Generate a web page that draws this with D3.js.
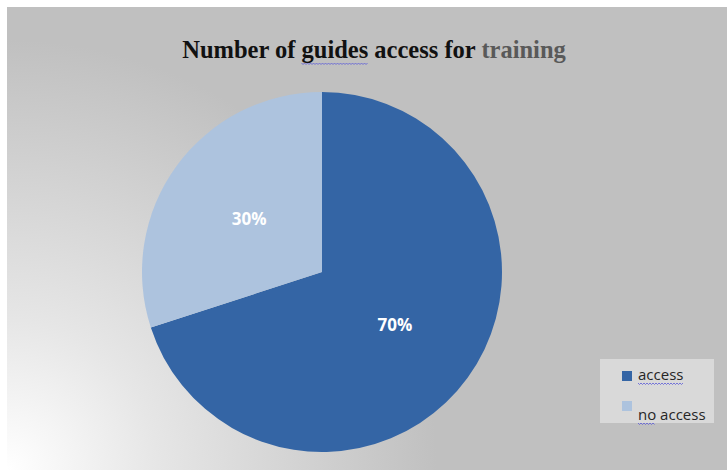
<!DOCTYPE html>
<html>
<head>
<meta charset="utf-8">
<script src="https://cdnjs.cloudflare.com/ajax/libs/d3/7.8.5/d3.min.js"></script>
<style>
  body { margin: 0; background: #fff; }
  svg { display: block; }
</style>
</head>
<body>
<div id="chart"></div>
<script>
// chart values
const categories = ["access", "no access"];
const values = [70, 30];
const labels = ["70%", "30%"];
const colors = ["#3465a5", "#adc3de"];

const width = 727, height = 470;

const svg = d3.select("#chart")
    .append("svg")
    .attr("width", width)
    .attr("height", height);

// background gradient, white in the bottom left corner
const defs = svg.append("defs");
const grad = defs.append("radialGradient")
    .attr("id", "bg")
    .attr("gradientUnits", "userSpaceOnUse")
    .attr("cx", 7).attr("cy", 470).attr("r", 430);
grad.append("stop").attr("offset", "0%").attr("stop-color", "#ffffff");
grad.append("stop").attr("offset", "35%").attr("stop-color", "#e6e6e6");
grad.append("stop").attr("offset", "100%").attr("stop-color", "#c0c0c0");

svg.append("rect")
    .attr("x", 7).attr("y", 7)
    .attr("width", width - 7).attr("height", height - 7)
    .attr("fill", "url(#bg)");

// title
const title = svg.append("text")
    .attr("x", 374)
    .attr("y", 58)
    .attr("text-anchor", "middle")
    .style("font-family", "'Liberation Serif', 'Times New Roman', serif")
    .style("font-weight", "bold")
    .style("font-size", "24.5px")
    .attr("fill", "#111");
title.append("tspan").text("Number of ");
title.append("tspan").attr("id", "guides").text("guides");
title.append("tspan").text(" access for ");
title.append("tspan").attr("fill", "#595959").text("training");

// little wavy underline like a spell checker mark
function squiggle(x0, x1, y) {
    let pts = [];
    for (let x = x0, i = 0; x <= x1; x += 1.5, i++) {
        pts.push([x, y + (i % 2 === 0 ? 0 : 1.5)]);
    }
    svg.append("path")
        .attr("d", d3.line()(pts))
        .attr("fill", "none")
        .attr("stroke", "#5a5ad8")
        .attr("stroke-width", 0.8);
}
const gb = document.getElementById("guides").getBBox();
squiggle(gb.x, gb.x + gb.width, 63);

// pie
const cx = 322, cy = 272, radius = 180;
const pie = d3.pie().sort(null).value(d => d);
const arc = d3.arc().innerRadius(0).outerRadius(radius);
const labelArc = d3.arc().innerRadius(radius * 0.5).outerRadius(radius * 0.5);

const g = svg.append("g").attr("transform", `translate(${cx}, ${cy})`);
const arcs = pie(values);

g.selectAll("path")
    .data(arcs)
    .enter()
    .append("path")
    .attr("d", arc)
    .attr("fill", (d, i) => colors[i]);

g.selectAll("text")
    .data(arcs)
    .enter()
    .append("text")
    .attr("transform", d => `translate(${labelArc.centroid(d)})`)
    .attr("text-anchor", "middle")
    .attr("dy", "0.35em")
    .style("font-family", "'Open Sans', 'Liberation Sans', sans-serif")
    .style("font-weight", "bold")
    .style("font-size", "17px")
    .attr("fill", "#fff")
    .text((d, i) => labels[i]);

// legend
const legend = svg.append("g");
legend.append("rect")
    .attr("x", 600).attr("y", 359)
    .attr("width", 114).attr("height", 64)
    .attr("fill", "#d9d9d9");

const items = legend.selectAll("g.item")
    .data(categories)
    .enter()
    .append("g")
    .attr("class", "item")
    .attr("transform", (d, i) => `translate(622, ${371 + i * 30})`);

items.append("rect")
    .attr("width", 10).attr("height", 10)
    .attr("fill", (d, i) => colors[i]);

items.append("text")
    .attr("x", 16)
    .attr("y", (d, i) => i === 0 ? 9 : 19)
    .style("font-family", "'Open Sans', 'Liberation Sans', sans-serif")
    .style("font-size", "15px")
    .attr("fill", "#262626")
    .text(d => d);

// spell check marks under legend words
const t0 = items.nodes()[0].querySelector("text").getBBox();
squiggle(638, 638 + t0.width, 383);
squiggle(638, 655, 423);
</script>
</body>
</html>
